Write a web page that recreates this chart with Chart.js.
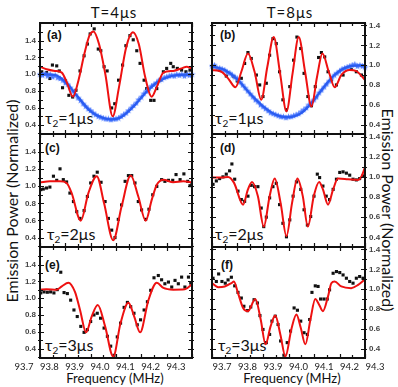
<!DOCTYPE html>
<html>
<head>
<meta charset="utf-8">
<script src="https://cdn.jsdelivr.net/npm/chart.js@4/dist/chart.umd.min.js"></script>
<style>
  body { margin: 0; background: #fff; width: 398px; height: 387px; position: relative; overflow: hidden; font-family: Lato, sans-serif; color: #111; }
  .t { position: absolute; white-space: nowrap; transform: translate(-50%, -50%); }
  .lab { position: absolute; white-space: nowrap; font: bold 12px "Liberation Sans", Arial, sans-serif; }
  .tau { position: absolute; white-space: nowrap; font-size: 16px; line-height: 16px; }
  .tau sub { font-size: 10px; vertical-align: -3px; line-height: 0; }
</style>
</head>
<body>
<div class="t" style="left:114px;top:12px;font-size:15px;letter-spacing:1px">T=4μs</div>
<div class="t" style="left:290px;top:12px;font-size:15px;letter-spacing:1px">T=8μs</div>
<div class="t" style="left:11px;top:201px;font-size:16px;transform:translate(-50%,-50%) rotate(-90deg)">Emission Power (Normalized)</div>
<div class="t" style="left:388px;top:210px;font-size:16px;transform:translate(-50%,-50%) rotate(90deg)">Emission Power (Normalized)</div>
<div class="t" style="left:115px;top:378px;font-size:13px">Frequency (MHz)</div>
<div class="t" style="left:292px;top:378px;font-size:13px">Frequency (MHz)</div>

<div class="lab" style="left:47px;top:28px">(a)</div>
<div class="lab" style="left:220px;top:28px">(b)</div>
<div class="lab" style="left:45px;top:141px">(c)</div>
<div class="lab" style="left:220px;top:141px">(d)</div>
<div class="lab" style="left:45px;top:258px">(e)</div>
<div class="lab" style="left:221px;top:258px">(f)</div>

<div class="tau" style="left:45px;top:110px">τ<sub>2</sub>=1μs</div>
<div class="tau" style="left:215px;top:110px">τ<sub>2</sub>=1μs</div>
<div class="tau" style="left:47px;top:226px">τ<sub>2</sub>=2μs</div>
<div class="tau" style="left:215px;top:226px">τ<sub>2</sub>=2μs</div>
<div class="tau" style="left:45px;top:337px">τ<sub>2</sub>=3μs</div>
<div class="tau" style="left:218px;top:337px">τ<sub>2</sub>=3μs</div>

<script>
// axis ticks
const freqTicks = [93.7, 93.8, 93.9, 94.0, 94.1, 94.2, 94.3];
const freqMinor = [93.75, 93.85, 93.95, 94.05, 94.15, 94.25];
const powerTicks = [0.4, 0.6, 0.8, 1.0, 1.2, 1.4];
const powerMinor = [0.3, 0.5, 0.7, 0.9, 1.1, 1.3, 1.5];

// blue star frequencies (a) and (b)
const starF = [93.70,93.71,93.72,93.73,93.74,93.75,93.76,93.77,93.78,93.79,93.80,93.81,93.82,93.83,93.84,93.85,93.86,93.87,93.88,93.89,
  93.90,93.91,93.92,93.93,93.94,93.95,93.96,93.97,93.98,93.99,94.00,94.01,94.02,94.03,94.04,94.05,94.06,94.07,94.08,94.09,
  94.10,94.11,94.12,94.13,94.14,94.15,94.16,94.17,94.18,94.19,94.20,94.21,94.22,94.23,94.24,94.25,94.26,94.27,94.28,94.29,94.30];

// (a) T=4us, tau2=1us
const aSqF = [93.707,93.726,93.739,93.749,93.766,93.776,93.789,93.801,93.814,93.829,93.842,93.858,93.874,93.887,93.898,93.914,93.930,93.940,93.953,93.965,93.983,93.995,94.010,94.026,94.039,94.055,94.068,94.082,94.095,94.111,94.121,94.137,94.150,94.161,94.174,94.187,94.200,94.216,94.226,94.242,94.259,94.276,94.292];
const aSqV = [1.03,1.02,0.95,1.11,1.10,1.04,0.84,0.92,0.75,0.73,0.81,1.04,1.22,1.36,1.48,1.54,1.30,1.28,1.09,1.04,0.60,0.65,0.93,1.11,1.34,1.46,1.41,1.28,1.13,0.93,0.83,0.69,0.69,0.83,0.93,1.03,1.07,1.13,1.09,1.07,1.05,1.03,1.05];
const aFitF = [93.70,93.726,93.759,93.786,93.805,93.830,93.852,93.875,93.895,93.911,93.933,93.958,93.987,94.012,94.040,94.067,94.090,94.115,94.141,94.161,94.187,94.226,94.259,94.279,94.30];
const aFitV = [1.09,1.06,1.04,1.02,0.91,0.733,0.93,1.24,1.46,1.51,1.36,1.0,0.50,0.85,1.32,1.50,1.36,0.97,0.733,0.85,1.02,1.04,1.07,1.09,1.067];
const aStarV = [1.00,0.99,1.01,0.98,1.00,0.97,0.99,0.96,0.95,0.93,0.90,0.88,0.84,0.80,0.76,0.72,0.69,0.65,0.62,0.59,
  0.57,0.54,0.52,0.50,0.49,0.48,0.47,0.47,0.46,0.47,0.47,0.48,0.50,0.52,0.54,0.57,0.60,0.63,0.66,0.70,
  0.73,0.77,0.80,0.83,0.86,0.88,0.90,0.93,0.94,0.96,0.97,0.98,0.99,0.98,1.00,0.99,1.00,0.98,1.00,0.99,1.00];
const aBlueF = [93.70,93.76,93.80,93.85,93.90,93.95,93.98,94.02,94.07,94.12,94.17,94.22,94.30];
const aBlueV = [1.0,0.99,0.91,0.73,0.56,0.48,0.465,0.49,0.62,0.79,0.92,0.98,1.0];

// (b) T=8us, tau2=1us
const bSqF = [93.710,93.730,93.756,93.786,93.799,93.815,93.828,93.841,93.854,93.874,93.887,93.900,93.913,93.926,93.939,93.952,93.965,93.978,93.992,94.005,94.020,94.033,94.048,94.061,94.076,94.090,94.105,94.118,94.129,94.142,94.155,94.168,94.188,94.214,94.246,94.266,94.286,94.30];
const bSqV = [0.983,0.95,0.89,0.883,0.84,0.867,1.017,1.127,1.067,0.90,0.80,0.683,0.817,1.10,1.267,1.217,0.933,0.65,0.55,0.783,1.05,1.283,1.167,0.917,0.683,0.59,0.783,1.077,1.127,1.083,0.933,0.85,0.80,0.90,0.957,0.933,0.90,0.877];
const bFitF = [93.70,93.737,93.763,93.792,93.815,93.841,93.867,93.893,93.917,93.942,93.967,93.992,94.016,94.040,94.065,94.090,94.112,94.133,94.158,94.181,94.207,94.240,94.266,94.30];
const bFitV = [0.95,0.933,0.867,0.777,0.933,1.117,0.933,0.65,0.983,1.283,0.917,0.533,0.917,1.283,0.933,0.583,0.883,1.117,0.933,0.777,0.90,0.95,0.94,0.85];
const bStarV = [0.99,1.00,0.97,0.97,0.96,0.95,0.93,0.92,0.90,0.88,0.86,0.83,0.80,0.77,0.74,0.71,0.68,0.65,0.63,0.60,
  0.58,0.56,0.54,0.52,0.51,0.50,0.49,0.48,0.48,0.47,0.48,0.48,0.49,0.50,0.51,0.53,0.55,0.57,0.60,0.62,
  0.65,0.68,0.72,0.75,0.78,0.81,0.84,0.87,0.90,0.92,0.94,0.96,0.97,0.98,0.99,1.00,1.01,0.99,1.00,0.99,0.98];
const bBlueF = [93.70,93.75,93.80,93.85,93.90,93.95,94.00,94.05,94.09,94.135,94.18,94.23,94.30];
const bBlueV = [0.99,0.95,0.855,0.71,0.585,0.50,0.475,0.515,0.617,0.767,0.90,0.98,1.0];

// (c) T=4us, tau2=2us
const cSqF = [93.703,93.713,93.726,93.739,93.753,93.766,93.779,93.792,93.805,93.818,93.832,93.845,93.858,93.874,93.887,93.900,93.913,93.926,93.941,93.957,93.970,93.983,93.996,94.009,94.022,94.036,94.049,94.062,94.075,94.088,94.101,94.117,94.130,94.145,94.161,94.180,94.193,94.207,94.224,94.237,94.253,94.268,94.283,94.292,94.30];
const cSqV = [0.96,0.967,0.979,0.99,1.117,1.069,1.203,1.077,1.05,0.92,0.821,0.703,0.624,0.715,0.88,1.038,1.117,1.164,1.046,0.821,0.624,0.487,0.40,0.613,0.782,1.057,1.124,1.124,1.038,0.821,0.723,0.613,0.731,0.90,0.998,1.077,1.057,1.069,1.069,1.136,1.077,1.144,1.057,1.006,1.03];
const cFitF = [93.70,93.739,93.779,93.805,93.825,93.861,93.891,93.924,93.953,93.989,94.022,94.058,94.088,94.117,94.141,94.161,94.187,94.226,94.266,94.30];
const cFitV = [1.046,1.057,1.057,1.038,0.92,0.597,0.92,1.117,0.80,0.369,0.762,1.124,0.88,0.597,0.84,1.018,1.077,1.046,1.057,1.046];

// (d) T=8us, tau2=2us
const dSqF = [93.704,93.717,93.730,93.743,93.756,93.769,93.778,93.789,93.802,93.815,93.828,93.841,93.854,93.867,93.880,93.893,93.903,93.913,93.926,93.939,93.952,93.965,93.978,93.992,94.005,94.018,94.031,94.048,94.061,94.074,94.087,94.100,94.113,94.122,94.135,94.148,94.161,94.175,94.188,94.201,94.214,94.227,94.240,94.253,94.266,94.279,94.292];
const dSqV = [0.926,0.96,0.983,1.0,1.027,1.06,1.128,0.977,0.859,0.775,0.758,0.809,0.916,0.903,0.903,0.691,0.507,0.601,0.792,0.903,0.936,0.725,0.54,0.406,0.574,0.809,0.95,0.876,0.674,0.523,0.607,0.809,1.027,0.993,0.909,0.809,0.775,0.876,0.977,1.044,1.05,1.037,1.017,0.977,0.97,0.983,1.01];
const dFitF = [93.70,93.737,93.763,93.786,93.822,93.841,93.857,93.880,93.903,93.926,93.946,93.969,93.992,94.014,94.035,94.056,94.076,94.099,94.120,94.135,94.155,94.175,94.194,94.233,94.273,94.286,94.30];
const dFitV = [0.993,0.993,1.0,0.943,0.725,0.876,0.95,0.809,0.507,0.809,0.983,0.742,0.413,0.742,0.983,0.809,0.507,0.809,0.95,0.876,0.725,0.876,0.983,0.977,0.97,1.003,1.094];

// (e) T=4us, tau2=3us
const eSqF = [93.703,93.716,93.729,93.742,93.755,93.768,93.782,93.795,93.808,93.821,93.834,93.847,93.861,93.874,93.887,93.900,93.913,93.926,93.939,93.953,93.966,93.979,93.992,94.005,94.018,94.032,94.045,94.058,94.071,94.084,94.097,94.111,94.124,94.137,94.150,94.167,94.180,94.193,94.207,94.220,94.233,94.246,94.259,94.272,94.286,94.295];
const eSqV = [1.064,1.076,1.072,1.076,1.064,1.103,1.31,1.068,1.056,0.978,0.861,0.783,0.666,0.595,0.627,0.724,0.802,0.822,0.763,0.646,0.548,0.431,0.322,0.541,0.705,0.892,0.951,0.90,0.822,0.685,0.744,0.861,0.959,1.095,1.244,1.271,1.22,1.173,1.193,1.134,1.213,1.173,1.252,1.134,1.252,1.181];
const eFitF = [93.70,93.726,93.766,93.786,93.812,93.838,93.858,93.882,93.904,93.928,93.957,93.989,94.018,94.049,94.072,94.095,94.128,94.161,94.187,94.226,94.272,94.30];
const eFitV = [1.103,1.107,1.103,1.142,1.185,1.076,0.861,0.595,0.783,0.92,0.666,0.306,0.705,0.947,0.783,0.595,0.978,1.185,1.123,1.103,1.107,1.166];

// (f) T=8us, tau2=3us
const fSqF = [93.704,93.717,93.726,93.739,93.752,93.763,93.776,93.789,93.802,93.815,93.825,93.839,93.852,93.865,93.878,93.888,93.900,93.913,93.926,93.935,93.948,93.959,93.969,93.982,93.995,94.008,94.022,94.035,94.048,94.061,94.074,94.083,94.092,94.105,94.116,94.126,94.139,94.152,94.161,94.175,94.188,94.201,94.214,94.227,94.240,94.253,94.266,94.279,94.292];
const fSqV = [1.11,1.077,1.153,1.077,1.06,1.093,1.12,1.033,0.967,0.91,0.827,0.783,0.82,0.893,0.86,0.733,0.593,0.46,0.543,0.677,0.727,0.643,0.477,0.333,0.46,0.577,0.81,0.787,0.677,0.56,0.543,0.693,0.967,1.033,1.027,0.90,0.90,0.90,0.993,1.16,1.177,1.167,1.143,1.11,1.077,1.06,1.11,1.127,1.11];
const fFitF = [93.70,93.724,93.750,93.776,93.786,93.802,93.822,93.841,93.870,93.891,93.910,93.930,93.948,93.968,93.988,94.011,94.031,94.048,94.066,94.086,94.105,94.120,94.135,94.155,94.168,94.181,94.207,94.246,94.273,94.30];
const fFitV = [1.06,1.02,1.027,1.06,1.077,0.96,0.81,0.777,0.90,0.693,0.443,0.627,0.733,0.543,0.32,0.593,0.743,0.61,0.443,0.693,0.90,0.843,0.777,0.927,1.06,1.077,1.027,1.01,1.043,1.10];

const rowBounds = [[23, 134], [134, 247], [247, 358]];

function pts(fs, vs) {
    return fs.map((f, i) => ({ x: f, y: vs[i] }));
}

// small filled five point star for the blue markers
function starImage() {
    const c = document.createElement('canvas');
    c.width = 7; c.height = 7;
    const g = c.getContext('2d');
    g.beginPath();
    for (let i = 0; i < 10; i++) {
        const r = i % 2 === 0 ? 3.4 : 1.5;
        const a = -Math.PI / 2 + i * Math.PI / 5;
        const px = 3.5 + r * Math.cos(a), py = 3.7 + r * Math.sin(a);
        if (i === 0) g.moveTo(px, py); else g.lineTo(px, py);
    }
    g.closePath();
    g.fillStyle = '#4a78ff';
    g.fill();
    return c;
}
const star = starImage();

// box frame with inward ticks on all four sides
const frame = {
    id: 'frame',
    afterDatasetsDraw(chart) {
        const { ctx, chartArea: a, scales: { x, y } } = chart;
        ctx.save();
        ctx.strokeStyle = '#111';
        ctx.lineWidth = 1.2;
        ctx.beginPath();
        freqTicks.concat(freqMinor).forEach(v => {
            const px = Math.round(x.getPixelForValue(v)) + 0.5;
            const len = freqTicks.includes(v) ? 4 : 3;
            ctx.moveTo(px, a.bottom); ctx.lineTo(px, a.bottom - len);
            ctx.moveTo(px, a.top); ctx.lineTo(px, a.top + len);
        });
        powerTicks.concat(powerMinor).forEach(v => {
            if (v < y.min || v > y.max) return;
            const py = Math.round(y.getPixelForValue(v)) + 0.5;
            const len = powerTicks.includes(v) ? 4 : 3;
            ctx.moveTo(a.left - 2, py); ctx.lineTo(a.left + len, py);
            ctx.moveTo(a.right + 2, py); ctx.lineTo(a.right - len, py);
        });
        ctx.stroke();
        ctx.lineWidth = 2;
        ctx.strokeRect(a.left, a.top, a.right - a.left, a.bottom - a.top);
        ctx.restore();
    }
};

function panel(o) {
    const left = o.side === 'left';
    const bottom = o.row === 2;
    const [top, bot] = rowBounds[o.row];
    const h = bot - top;
    const w = left ? 200 : 194;
    const ch = 8 + h + 8 + (bottom ? 14 : 0);
    const cv = document.createElement('canvas');
    cv.width = w; cv.height = ch;
    cv.style.cssText = `position:absolute;left:${left ? 0 : 204}px;top:${top - 8}px;width:${w}px;height:${ch}px`;
    document.body.appendChild(cv);

    const datasets = [{
        data: pts(o.fit[0], o.fit[1]),
        showLine: true, borderColor: '#ee1111', borderWidth: 2, pointRadius: 0,
        cubicInterpolationMode: 'monotone', order: 0
    }];
    if (o.blue) {
        datasets.push({
            data: pts(o.blue[0], o.blue[1]),
            showLine: true, borderColor: '#2a5cf0', borderWidth: 2.2, pointRadius: 0,
            cubicInterpolationMode: 'monotone', order: 1
        });
        datasets.push({
            data: pts(starF, o.stars),
            pointStyle: star, pointRadius: 3, clip: 8, order: 2
        });
    }
    datasets.push({
        data: pts(o.sq[0], o.sq[1]),
        pointStyle: 'rect', pointRadius: 2.2, borderWidth: 0,
        backgroundColor: '#111', order: 3
    });

    new Chart(cv, {
        type: 'scatter',
        data: { datasets: datasets },
        options: {
            responsive: false,
            animation: false,
            events: [],
            layout: {
                padding: left
                    ? { top: 8, right: 8, bottom: 8, left: 0 }
                    : { top: 8, right: 0, bottom: 8, left: 8 }
            },
            plugins: { legend: { display: false }, tooltip: { enabled: false } },
            scales: {
                x: {
                    type: 'linear', min: 93.7, max: 94.3,
                    afterBuildTicks: s => { s.ticks = freqTicks.map(v => ({ value: v })); },
                    afterFit: s => { s.height = bottom ? 14 : 0; s.paddingLeft = 0; s.paddingRight = 0; },
                    grid: { display: false, drawTicks: false },
                    border: { display: false },
                    ticks: {
                        display: bottom,
                        padding: 3, maxRotation: 0, autoSkip: false,
                        labelOffset: left ? -16 : 10,
                        color: '#222', font: { family: 'Lato', size: 9.5 },
                        callback: v => v.toFixed(1)
                    }
                },
                y: {
                    position: o.side,
                    min: o.yMin, max: o.yMax,
                    afterBuildTicks: s => { s.ticks = powerTicks.map(v => ({ value: v })); },
                    afterFit: s => { s.width = left ? 40 : 33; s.paddingTop = 0; s.paddingBottom = 0; },
                    grid: { display: false, drawTicks: false },
                    border: { display: false },
                    ticks: {
                        padding: 4, color: '#444',
                        font: { family: 'Liberation Sans', size: 8, weight: 'bold' },
                        callback: v => v.toFixed(1)
                    }
                }
            }
        },
        plugins: [frame]
    });
}

panel({ side: 'left', row: 0, yMin: 0.29, yMax: 1.61, sq: [aSqF, aSqV], fit: [aFitF, aFitV], blue: [aBlueF, aBlueV], stars: aStarV });
panel({ side: 'right', row: 0, yMin: 0.305, yMax: 1.425, sq: [bSqF, bSqV], fit: [bFitF, bFitV], blue: [bBlueF, bBlueV], stars: bStarV });
panel({ side: 'left', row: 1, yMin: 0.29, yMax: 1.61, sq: [cSqF, cSqV], fit: [cFitF, cFitV] });
panel({ side: 'right', row: 1, yMin: 0.305, yMax: 1.425, sq: [dSqF, dSqV], fit: [dFitF, dFitV] });
panel({ side: 'left', row: 2, yMin: 0.29, yMax: 1.61, sq: [eSqF, eSqV], fit: [eFitF, eFitV] });
panel({ side: 'right', row: 2, yMin: 0.305, yMax: 1.425, sq: [fSqF, fSqV], fit: [fFitF, fFitV] });
</script>
</body>
</html>
